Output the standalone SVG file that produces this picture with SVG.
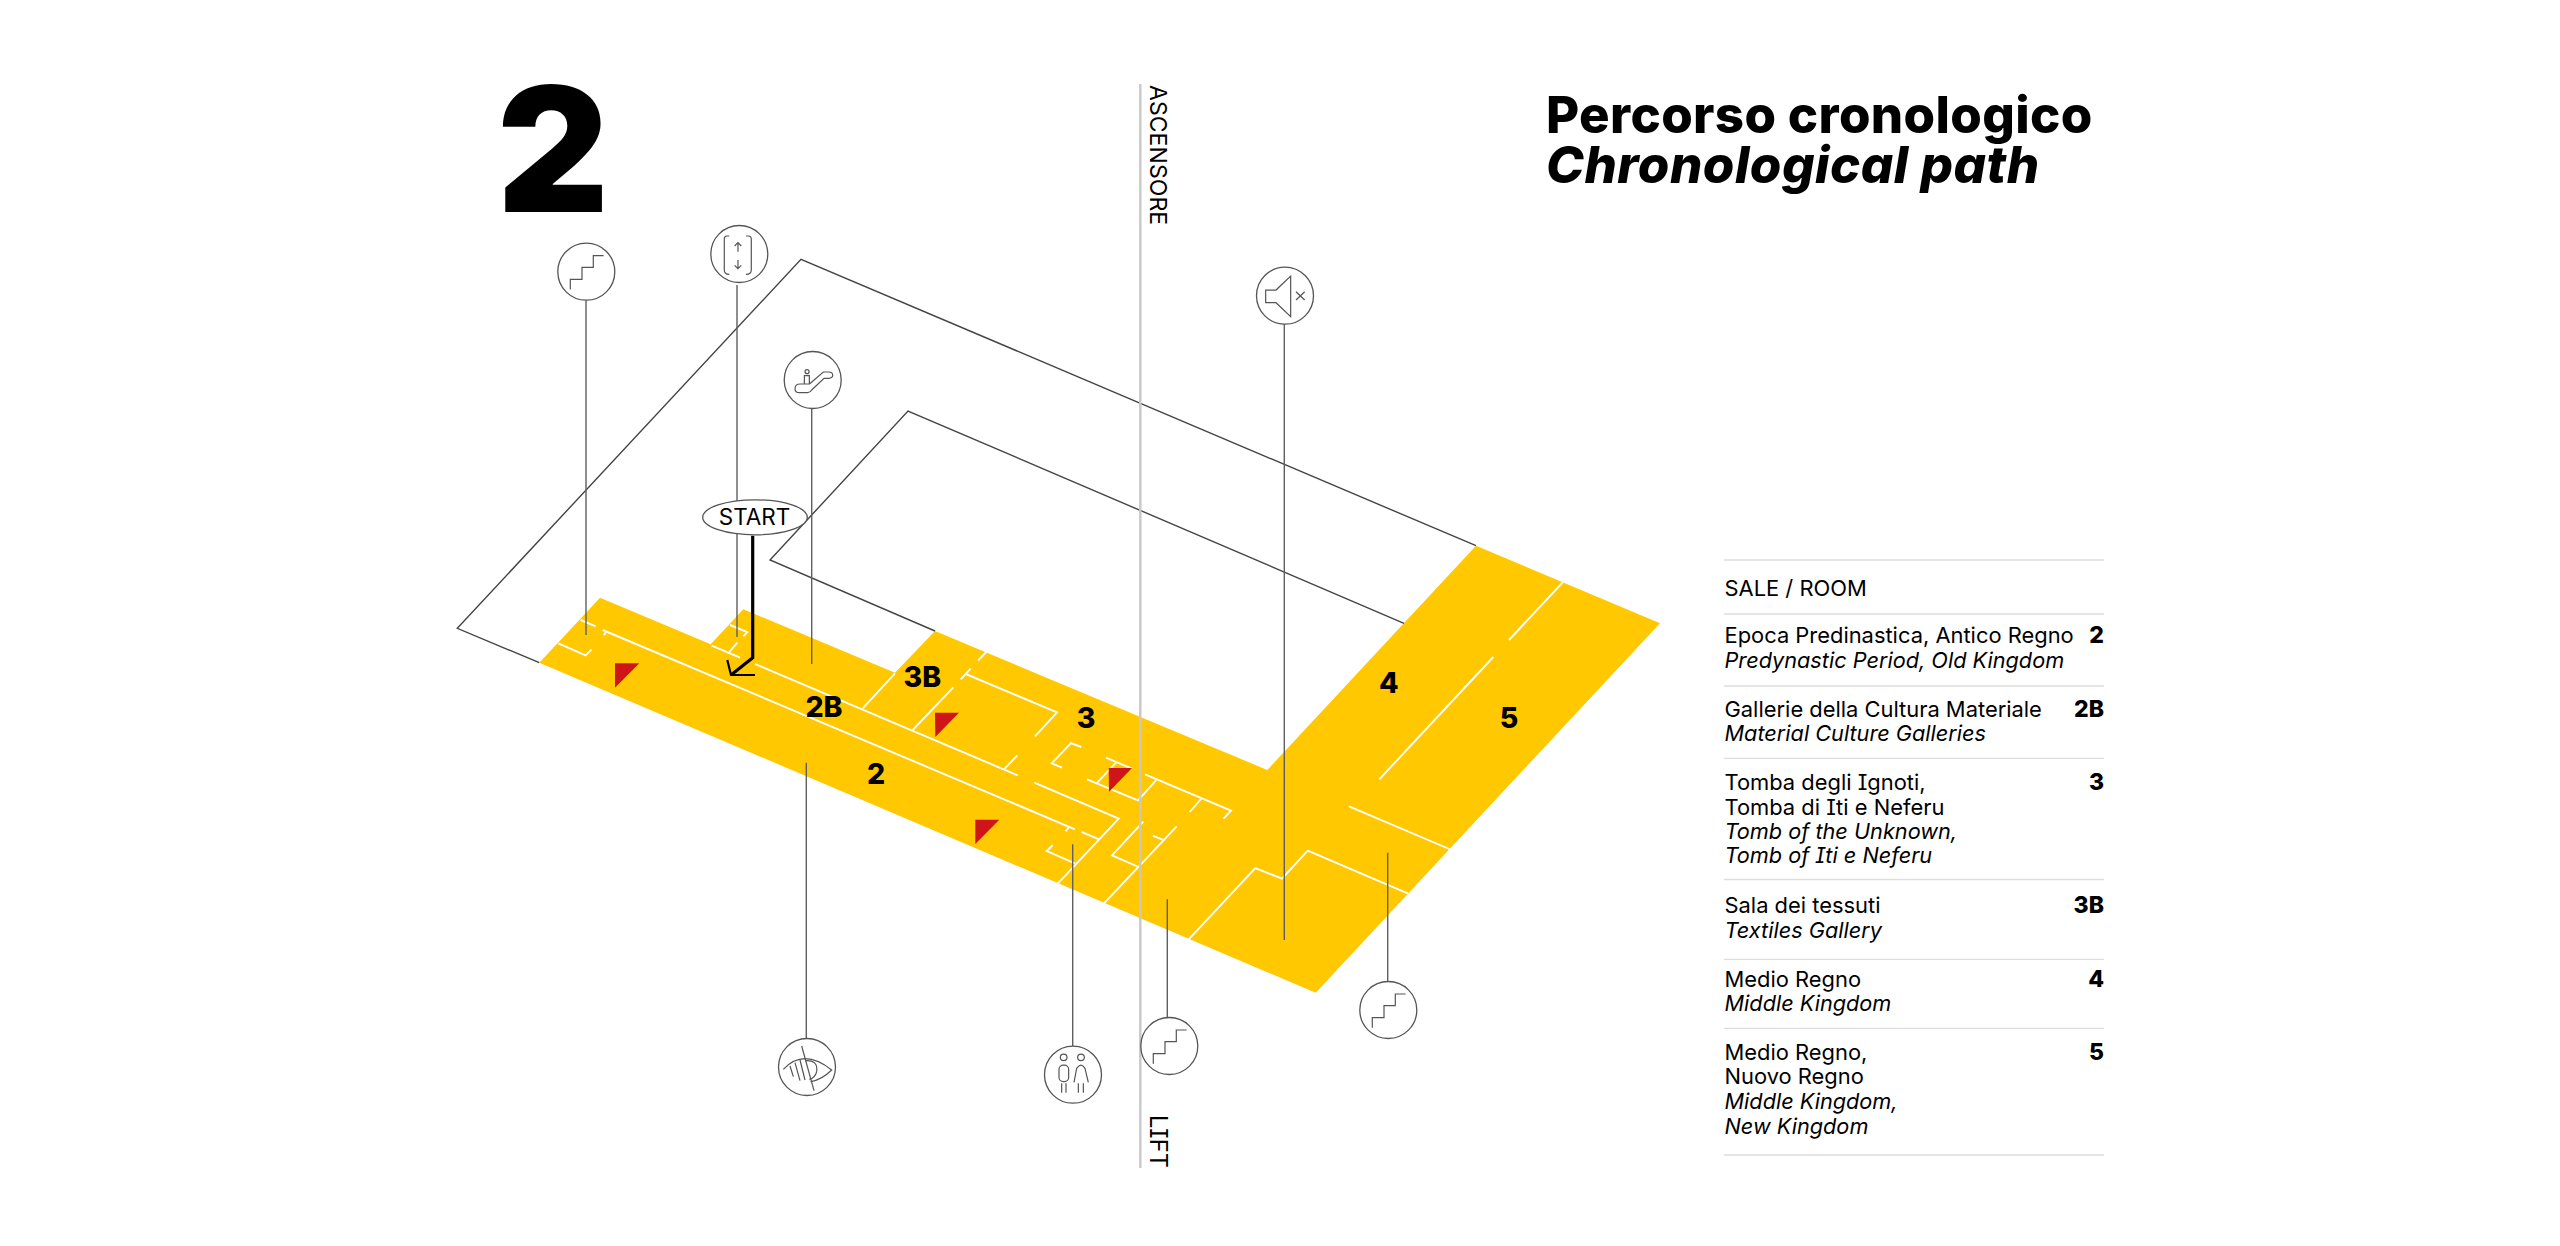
<svg xmlns="http://www.w3.org/2000/svg" xmlns:xlink="http://www.w3.org/1999/xlink" width="2560" height="1246" viewBox="0 0 2560 1246">
<style>
text{font-family:"Inter","Liberation Sans",sans-serif;fill:#000;font-feature-settings:"cv08"}
.w{fill:none;stroke:#fff;stroke-width:1.9}
.o{fill:none;stroke:#444;stroke-width:1.4}
.l{stroke:#5f5f5f;stroke-width:1.4;fill:none}
.c{fill:#fff;stroke:#555;stroke-width:1.3}
.i{fill:none;stroke:#555;stroke-width:1.2}
.r{fill:#cf1518}
.n{font-weight:800;font-size:28.5px;text-anchor:middle}
.t{font-size:21.9px}
.e{font-style:italic;font-size:21.7px}
.b{font-size:23px;font-weight:800;text-anchor:end}
.h{stroke:#ddd;stroke-width:1.3}
.big{font-size:51px;font-weight:800}
</style>
<defs>
<path id="stairs" d="M-16 17.7V7.7H-4.3V-4.3H7V-16H17.3"/>
</defs>
<rect width="2560" height="1246" fill="#fff"/>
<g id="floor">
<polygon fill="#ffc800" points="539.3,662.7 600,597.7 710.7,644.3 743.3,609.3 895,672.7 935,631 1267.3,770 1476,545.7 1660,623.3 1315.7,992.7"/>
<path class="o" d="M539.3 662.7L457.3 628.3L801 259.3L1476 545.7"/>
<path class="o" d="M1404 623.3L908 411L770 560L935 631"/>
</g>
<g id="walls">
<path class="w" d="M580.7 620L595.7 626.3"/>
<path class="w" d="M558.3 643.3L585.7 655.3L591.7 649.3"/>
<path class="w" d="M602.7 630L1075 829.3"/>
<path class="w" d="M606 631.7L604 635.3"/>
<path class="w" d="M1069 827L1065.7 831.3"/>
<path class="w" d="M711.7 645.7L740 657.7"/>
<path class="w" d="M737.3 642.7L729.3 652"/>
<path class="w" d="M730 625L747.3 632L743.3 636.3"/>
<path class="w" d="M755 664L1017.7 775.3"/>
<path class="w" d="M862.7 708.3L895 673.3"/>
<path class="w" d="M912.7 730L953.3 687.3"/>
<path class="w" d="M960.7 679.3L970.7 668.7"/>
<path class="w" d="M978 660.7L986.3 652"/>
<path class="w" d="M965.7 674L1057 712.3L1035 736.3"/>
<path class="w" d="M1004.3 769L1017.3 755.3"/>
<path class="w" d="M1062 767.7L1051.7 763.3L1071 743L1081.3 747"/>
<path class="w" d="M1106 757.7L1132 768.7"/>
<path class="w" d="M1116 762.7L1097.3 782.7"/>
<path class="w" d="M1087 779.3L1138 800.3L1156 780.3"/>
<path class="w" d="M1145 774.3L1231 810.7L1223.7 818.7"/>
<path class="w" d="M1201 799L1189.7 812"/>
<path class="w" d="M1034.3 782.7L1118.7 818.7L1057.7 883.7"/>
<path class="w" d="M1081.7 832L1099 839.3"/>
<path class="w" d="M1052.7 845.3L1046.7 851L1075 863.3"/>
<path class="w" d="M1143.3 821.7L1112 855.3L1138.7 867"/>
<path class="w" d="M1176.7 826.3L1104 903.3"/>
<path class="w" d="M1152.7 835.7L1164.3 840.3"/>
<path class="w" d="M1188.7 939.3L1255.3 868L1282 878.7L1307.7 850.7L1407.7 893.3"/>
<path class="w" d="M1349 806.3L1449.3 849"/>
<path class="w" d="M1379.3 779.3L1493.3 657"/>
<path class="w" d="M1509 640L1562.7 582.3"/>
</g>
<g id="direction-markers">
<polygon class="r" points="615,663.3 639.3,663.3 615,687.7"/>
<polygon class="r" points="935,712.7 959,712.7 935.3,737"/>
<polygon class="r" points="975.3,819.7 999.3,819.7 975.3,844"/>
<polygon class="r" points="1108.7,768 1132,768 1109,791.7"/>
</g>
<g id="connectors">
<path class="l" d="M586 300V635"/>
<path class="l" d="M737 285V637"/>
<path class="l" d="M811.7 408V664"/>
<path class="l" d="M1284.3 324V940"/>
<path class="l" d="M1387.7 852.7V981.5"/>
<path class="l" d="M806.3 762.7V1038.5"/>
<path class="l" d="M1072.7 844.3V1046"/>
<path class="l" d="M1167.3 899.3V1018"/>
<path d="M1140.3 84V1168" stroke="#c8c8c8" stroke-width="2.4" fill="none"/>
<path d="M752.7 535.7V657.7L731 675" stroke="#000" stroke-width="3.2" fill="none"/>
<path d="M727.3 660L731 675H755" stroke="#000" stroke-width="2.2" fill="none"/>
</g>
<g id="node-stairs-1"><circle class="c" cx="586.3" cy="271.7" r="28.5"/><use href="#stairs" class="i" x="586.3" y="271.7"/></g>
<g id="node-lift" transform="translate(739.3 254) scale(.3333)">
<circle class="c" r="85.5" style="stroke-width:3.9"/>
<g class="i" style="stroke-width:3.6">
<path d="M-30 -54H-38Q-45 -54 -45 -44V48Q-45 61 -30 61"/>
<path d="M20 -54H28Q36 -54 36 -44V48Q36 61 20 61"/>
<path d="M-4 -7V-34M-14 -24L-4 -34L6 -24M-4 18V44M-14 34L-4 44L6 34"/>
</g></g>
<g id="node-escalator" transform="translate(812.7 380) scale(.3333)">
<circle class="c" r="85.5" style="stroke-width:3.9"/>
<g class="i" style="stroke-width:3.6">
<circle cx="-17" cy="-25" r="6"/>
<path d="M-25 12V-13H-10V12"/>
<path d="M-10 12L32 -24H48Q60 -24 60 -14Q60 -6 48 -5H34L-3 30Q-8 38 -15 38H-40Q-53 38 -53 26Q-53 12 -38 12Z"/>
</g></g>
<g id="node-no-audio" transform="translate(1285 295.7) scale(.3333)">
<circle class="c" r="85.5" style="stroke-width:3.9"/>
<g class="i" style="stroke-width:3.6">
<path d="M-58 -17H-27L17 -59V63L-27 21H-58Z"/>
<path d="M33 -12L59 13M59 -12L33 13"/>
</g></g>
<g id="node-stairs-2"><circle class="c" cx="1388.3" cy="1010" r="28.5"/><use href="#stairs" class="i" x="1388.3" y="1010"/></g>
<g id="node-stairs-3"><circle class="c" cx="1169.3" cy="1046" r="28.5"/><use href="#stairs" class="i" x="1169.3" y="1046"/></g>
<g id="node-no-sight" transform="translate(807 1067) scale(.3333)">
<circle class="c" r="85.5" style="stroke-width:3.9"/>
<g class="i" style="stroke-width:3.6">
<path d="M-71 7Q-10 -58 74 9Q45 38 11 44"/>
<path d="M-6 -19Q34 -22 29 14Q24 34 7 37"/>
<path d="M-16 -63L21 71"/>
<path d="M-51 -3L-41 29M-36 -13L-21 41M-21 -21L-6 39"/>
</g></g>
<g id="node-toilets" transform="translate(1073 1074.7) scale(.3333)">
<circle class="c" r="85.5" style="stroke-width:3.9"/>
<g class="i" style="stroke-width:3.6">
<circle cx="-28" cy="-52" r="10"/><circle cx="24" cy="-52" r="10"/>
<rect x="-42" y="-29" width="29" height="50" rx="13"/>
<path d="M-34 26V54M-21 26V54"/>
<path d="M3 23L11 -19Q24 -39 36 -19L46 23"/>
<path d="M16 26V54M31 26V54"/>
</g></g>
<g id="node-start">
<ellipse cx="755" cy="517.3" rx="52.3" ry="17.5" fill="#fff" stroke="#555" stroke-width="1.3"/>
<text x="754.5" y="524.6" font-size="22.5" text-anchor="middle">START</text>
</g>
<g id="node-room-2"><text class="n" x="876" y="784">2</text></g>
<g id="node-room-2b"><text class="n" x="824" y="716.5">2B</text></g>
<g id="node-room-3b"><text class="n" x="922.3" y="686.7">3B</text></g>
<g id="node-room-3"><text class="n" x="1086" y="727.7">3</text></g>
<g id="node-room-4"><text class="n" x="1388.7" y="693.3">4</text></g>
<g id="node-room-5"><text class="n" x="1509" y="728.3">5</text></g>
<g id="lift-labels">
<text transform="translate(1150 85) rotate(90)" font-size="23.1">ASCENSORE</text>
<text transform="translate(1150 1115) rotate(90)" font-size="23.6">LIFT</text>
</g>
<g id="titles">
<text x="497" y="212" font-size="173" font-weight="900">2</text>
<text class="big" x="1546" y="132.5" letter-spacing=".35">Percorso cronologico</text>
<text class="big" x="1546" y="182.5" font-style="italic" letter-spacing=".5">Chronological path</text>
</g>
<g id="legend">
<path class="h" d="M1724 560H2104M1724 614H2104M1724 686H2104M1724 758.3H2104M1724 879.5H2104M1724 959.3H2104M1724 1028.3H2104M1724 1155H2104"/>
<text class="t" x="1724.5" y="596">SALE / ROOM</text>
<g id="legend-2"><text class="t" x="1724.5" y="643.3">Epoca Predinastica, Antico Regno</text><text class="t e" x="1724.5" y="667.7">Predynastic Period, Old Kingdom</text><text class="b" x="2104" y="643.3">2</text></g>
<g id="legend-2b"><text class="t" x="1724.5" y="716.7">Gallerie della Cultura Materiale</text><text class="t e" x="1724.5" y="741.3">Material Culture Galleries</text><text class="b" x="2104" y="716.7">2B</text></g>
<g id="legend-3"><text class="t" x="1724.5" y="790">Tomba degli Ignoti,</text><text class="t" x="1724.5" y="815">Tomba di Iti e Neferu</text><text class="t e" x="1724.5" y="839">Tomb of the Unknown,</text><text class="t e" x="1724.5" y="863.3">Tomb of Iti e Neferu</text><text class="b" x="2104" y="790">3</text></g>
<g id="legend-3b"><text class="t" x="1724.5" y="912.7">Sala dei tessuti</text><text class="t e" x="1724.5" y="937.7">Textiles Gallery</text><text class="b" x="2104" y="912.7">3B</text></g>
<g id="legend-4"><text class="t" x="1724.5" y="986.7">Medio Regno</text><text class="t e" x="1724.5" y="1011">Middle Kingdom</text><text class="b" x="2104" y="986.7">4</text></g>
<g id="legend-5"><text class="t" x="1724.5" y="1060">Medio Regno,</text><text class="t" x="1724.5" y="1084.3">Nuovo Regno</text><text class="t e" x="1724.5" y="1109">Middle Kingdom,</text><text class="t e" x="1724.5" y="1133.7">New Kingdom</text><text class="b" x="2104" y="1060">5</text></g>
</g>
</svg>
